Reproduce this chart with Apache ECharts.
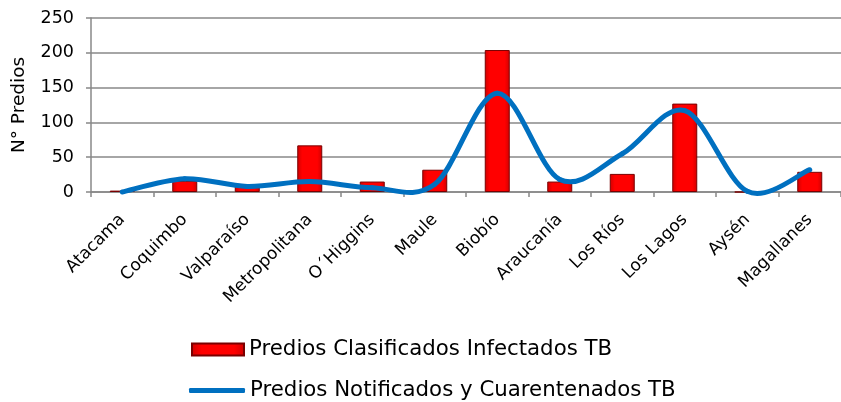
<!DOCTYPE html>
<html>
<head>
<meta charset="utf-8">
<script src="https://cdn.jsdelivr.net/npm/echarts@6/dist/echarts.min.js"></script>
<style>
  html, body { margin: 0; padding: 0; background: #fff; }
  #myChart { width: 841px; height: 402px; }
</style>
</head>
<body>
<div id="myChart"></div>
<script>
const regiones = ['Atacama', 'Coquimbo', 'Valparaíso', 'Metropolitana', 'O´Higgins', 'Maule',
  'Biobío', 'Araucanía', 'Los Ríos', 'Los Lagos', 'Aysén', 'Magallanes'];
const infectados = [2, 16, 9, 67, 15, 32, 204, 15, 26, 127, 0, 29];
const cuarentenados = [0, 19, 8, 15, 6, 11, 142, 18, 55, 117, 1, 32];
const nombreBarras = 'Predios Clasificados Infectados TB';
const nombreLinea = 'Predios Notificados y Cuarentenados TB';

let chartDom = document.getElementById('myChart');
let myChart = echarts.init(chartDom);
let font = 'DejaVu Sans';
let azul = '#0070c0';

// suavizado tipo Excel (Catmull-Rom) sobre las coordenadas del eje
function renderCurva(params, api) {
    const i = params.dataIndex;
    const n = cuarentenados.length;
    if (i >= n - 1) return null;
    const pt = j => {
        const k = Math.max(0, Math.min(n - 1, j));
        return api.coord([k, cuarentenados[k]]);
    };
    const p0 = pt(i - 1), p1 = pt(i), p2 = pt(i + 1), p3 = pt(i + 2);
    return {
        type: 'bezierCurve',
        shape: {
            x1: p1[0], y1: p1[1],
            x2: p2[0], y2: p2[1],
            cpx1: p1[0] + (p2[0] - p0[0]) / 6,
            cpy1: p1[1] + (p2[1] - p0[1]) / 6,
            cpx2: p2[0] - (p3[0] - p1[0]) / 6,
            cpy2: p2[1] - (p3[1] - p1[1]) / 6
        },
        style: { stroke: azul, lineWidth: 5, fill: 'none', lineCap: 'round' }
    };
}

let option = {
    animation: false,
    textStyle: { fontFamily: font },
    grid: { left: 91, right: -11, top: 18, bottom: 210 },
    legend: [
        {
            left: 191,
            top: 339,
            padding: 0,
            itemWidth: 52,
            itemHeight: 12,
            textStyle: { fontSize: 21.3, color: '#000', fontFamily: font },
            data: [{ name: nombreBarras, icon: 'rect' }]
        },
        {
            left: 189,
            top: 380,
            padding: 0,
            itemWidth: 56,
            itemHeight: 5,
            textStyle: { fontSize: 21.3, color: '#000', fontFamily: font },
            data: [{ name: nombreLinea, icon: 'roundRect' }]
        }
    ],
    xAxis: {
        type: 'category',
        data: regiones,
        axisLine: { lineStyle: { color: '#888', width: 1.5 } },
        axisTick: { show: true, length: 5, lineStyle: { color: '#888', width: 1.5 } },
        axisLabel: { rotate: 45, fontSize: 17, color: '#000', margin: 25, interval: 0 }
    },
    yAxis: {
        type: 'value',
        min: 0,
        max: 250,
        interval: 50,
        name: 'N° Predios',
        nameLocation: 'middle',
        nameGap: 62,
        nameTextStyle: { fontSize: 18.5, color: '#000' },
        axisLine: { show: true, lineStyle: { color: '#888', width: 1.5 } },
        axisTick: { show: true, length: 5, lineStyle: { color: '#888', width: 1.5 } },
        axisLabel: { fontSize: 17.5, color: '#000', margin: 17 },
        splitLine: { lineStyle: { color: '#888', width: 1.5 } }
    },
    series: [
        {
            name: nombreBarras,
            type: 'bar',
            data: infectados,
            barWidth: 25,
            itemStyle: {
                color: {
                    type: 'linear', x: 0, y: 0, x2: 1, y2: 0,
                    colorStops: [
                        { offset: 0, color: '#d00000' },
                        { offset: 0.2, color: '#ff0000' },
                        { offset: 0.8, color: '#ff0000' },
                        { offset: 1, color: '#d00000' }
                    ]
                },
                borderColor: '#7a0000',
                borderWidth: 1
            }
        },
        {
            name: nombreLinea,
            type: 'custom',
            renderItem: renderCurva,
            data: cuarentenados.map((v, i) => [i, v]),
            encode: { x: 0, y: 1 },
            z: 5,
            itemStyle: { color: azul }
        }
    ]
};

option && myChart.setOption(option);
</script>
</body>
</html>
